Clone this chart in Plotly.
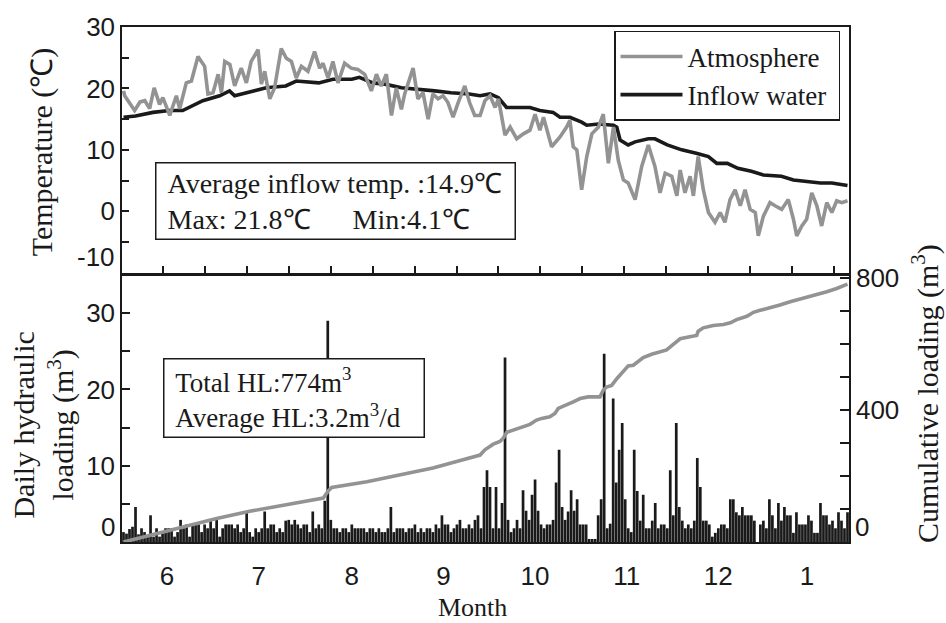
import plotly.graph_objects as go
import numpy as np

# ---------------- data ----------------
month_labels = ["6", "7", "8", "9", "10", "11", "12", "1"]
month_lengths = [30, 31, 31, 30, 31, 30, 31, 28]

atm_day = [0, 0.4, 3.7, 5.5, 7.1, 8.7, 10.2, 12, 13.1, 15.4, 17.6, 18.7, 20.9, 22.6, 24.8, 27, 28.1, 29.8,
           31.5, 32.6, 33.7, 35.4, 37, 39.2, 40.9, 42.5, 44.8, 45.9, 47, 48.7, 50.3, 52.5, 54.2, 55.9,
           57.5, 59.2, 61.4, 63.6, 65.3, 66.4, 68.1, 69.7, 71.4, 73.6, 75.8, 78, 80.3, 82.5, 84.2, 85.8,
           87.5, 89.2, 90.8, 92.5, 93.6, 94.7, 96.4, 98, 99.7, 101.4, 103, 104.7, 106.4, 108, 109.7,
           111.4, 113.6, 115.2, 116.9, 118.7, 120.3, 122, 123.7, 124.8, 127, 128.7, 130.9, 133.1, 135.3,
           137, 138.6, 139.8, 142.5, 145.3, 147.5, 148.6, 149.7, 150.9, 152.5, 154.2, 155.9, 158.1,
           159.7, 161.4, 163.1, 164.7, 166.4, 168, 170.3, 172.5, 174.7, 176.9, 178.6, 180.3, 182.5,
           184.2, 185.3, 186.9, 188.6, 189.7, 191.3, 193, 194.7, 196.9, 198.6, 200.2, 201.9, 203.6,
           205.3, 206.9, 208.6, 210.3, 211.3, 213, 215.2, 216.9, 219.1, 221.3, 223, 224.1, 225.8,
           227.4, 229.1, 230.8, 232.4, 234.1, 235.8, 237.4, 239.1, 241]
atm_temp = [19.6, 18.8, 16.4, 17.8, 18.0, 16.7, 20.1, 17.4, 18.5, 15.6, 18.8, 16.7, 20.9, 21.2, 25.2, 23.6,
            19.1, 19.3, 22.3, 19.3, 24.4, 23.9, 20.4, 23.3, 20.9, 24.4, 26.3, 20.7, 22.8, 18.3, 20.1,
            26.5, 24.9, 24.4, 21.7, 23.6, 22.8, 26.0, 23.3, 24.1, 21.7, 24.4, 20.9, 24.1, 23.3, 23.1,
            22.3, 19.6, 22.3, 20.4, 22.3, 15.6, 20.1, 16.6, 19.1, 20.9, 23.3, 18.3, 19.3, 15.0, 19.1,
            18.3, 18.8, 17.7, 15.3, 17.7, 20.4, 17.7, 15.6, 15.6, 18.0, 18.8, 16.9, 18.3, 12.4, 13.7,
            11.8, 12.6, 13.2, 15.8, 13.2, 15.3, 10.5, 12.1, 13.7, 14.8, 10.5, 10.0, 3.5, 8.9, 12.6,
            13.7, 15.8, 7.8, 13.7, 8.3, 5.1, 4.6, 1.9, 7.3, 10.8, 7.3, 3.0, 6.2, 5.7, 2.5, 6.7, 3.0,
            5.7, 2.5, 8.9, 3.5, -0.2, -1.8, -0.2, -1.8, 1.9, 3.5, 0.9, 3.5, 0.3, -0.2, -4.0, -0.8,
            1.4, 0.9, 0.3, 1.9, -1.3, -4.0, -2.4, -1.3, 3.0, 0.9, -2.4, 1.4, -0.2, 1.7, 1.4, 1.7]

inflow_day = [0, 4, 9.8, 15.3, 19.7, 26.4, 32, 35.3, 37, 43, 47.5, 54, 57.5, 65, 69.7, 76, 78.5, 83, 87,
              92.5, 98, 103.6, 109, 115, 118.7, 122, 124.8, 127.5, 131, 135.3, 138.6, 143, 145.3,
              148.6, 152.5, 154.2, 158.1, 163.1, 164.2, 165.3, 168, 170.3, 174.7, 176.9, 181, 185.8,
              191, 194.7, 197.5, 201, 204.5, 209, 213, 219, 223, 227.4, 232, 235.8, 241]
inflow_temp = [15.3, 15.5, 16.1, 16.4, 16.4, 18.0, 18.8, 19.6, 18.8, 19.6, 20.1, 20.4, 21.2, 20.9, 21.5,
               21.5, 21.8, 20.9, 20.7, 20.1, 19.9, 19.6, 19.3, 19.1, 18.8, 19.1, 18.5, 16.9, 16.9,
               16.9, 16.4, 16.1, 15.3, 15.3, 14.5, 14.0, 14.2, 14.0, 13.7, 11.6, 10.8, 11.3, 11.8,
               11.8, 10.8, 10.0, 9.4, 8.9, 7.8, 7.8, 7.0, 6.5, 5.9, 5.7, 5.1, 4.9, 4.6, 4.6, 4.2]

daily_hl = [
    1.3, 1.1, 1.7, 2.0, 4.6, 1.0, 1.8, 1.3, 0.7, 3.5,
    0.7, 1.8, 0.7, 1.3, 1.8, 1.8, 1.8, 0.7, 1.3, 2.9,
    1.8, 2.3, 0.7, 2.3, 2.3, 2.3, 1.3, 2.3, 1.8, 2.9,
    1.8, 2.9, 0.7, 1.8, 2.3, 2.3, 2.3, 1.8, 2.3, 1.3,
    1.8, 4.0, 1.3, 0.7, 1.8, 1.3, 1.8, 4.0, 1.8, 2.3,
    2.3, 1.3, 1.8, 1.3, 2.8, 2.9, 2.3, 2.9, 2.3, 1.8,
    2.3, 2.3, 1.3, 4.0, 1.8, 2.3, 1.8, 5.4, 29.0, 2.9,
    1.8, 1.8, 1.3, 1.8, 1.8, 1.3, 2.3, 1.8, 1.8, 1.8,
    1.8, 1.3, 1.8, 1.8, 1.3, 1.8, 1.3, 1.3, 1.8, 4.6,
    1.3, 1.8, 1.8, 1.8, 1.3, 1.8, 1.8, 2.3, 1.3, 1.8,
    1.3, 1.8, 1.8, 1.3, 2.3, 1.8, 3.5, 2.3, 2.3, 1.3,
    1.8, 2.3, 2.9, 1.8, 1.8, 2.3, 1.8, 2.9, 3.5, 1.8,
    7.2, 9.4, 7.2, 1.8, 7.2, 1.8, 5.1, 24.2, 2.9, 1.3,
    1.8, 2.9, 1.8, 6.8, 4.1, 2.9, 6.2, 8.2, 4.1, 2.3,
    1.8, 2.3, 2.3, 2.9, 7.8, 12.1, 4.6, 2.9, 4.0, 6.8,
    4.1, 5.6, 2.3, 2.3, 2.3, 0.4, 0.4, 0.4, 3.5, 5.6,
    24.7, 1.8, 2.4, 18.8, 7.8, 12.1, 15.6, 5.6, 1.8, 1.3,
    12.1, 6.7, 2.8, 6.2, 1.8, 1.8, 2.8, 5.1, 1.8, 2.3,
    2.3, 1.8, 9.4, 3.5, 15.6, 4.6, 2.8, 1.8, 2.3, 1.8,
    2.8, 11.0, 7.2, 2.8, 2.8, 2.3, 0.7, 1.2, 1.8, 2.3,
    2.3, 1.8, 5.6, 5.6, 3.9, 3.5, 4.6, 3.5, 3.5, 3.5,
    2.8, 0.0, 2.3, 2.8, 1.8, 5.6, 3.5, 1.8, 5.1, 2.8,
    4.6, 3.5, 3.5, 1.2, 3.9, 2.3, 2.3, 2.3, 3.5, 2.8,
    1.2, 1.2, 5.1, 3.5, 3.5, 2.3, 2.8, 1.8, 3.9, 2.8,
    1.8, 3.9]

cum_day = [0, 9, 20, 31, 42, 53, 64, 66.5, 68.2, 69.3, 81, 92, 103, 112.7, 118.7, 120.3, 121.4, 123.1,
           125.3, 126.4, 127.6, 129.8, 132, 135.3, 137.5, 139.2, 141.9, 143.6, 144.7, 147.5, 149.7,
           152, 154.7, 158.6, 159.7, 160.8, 162.5, 164.2, 166.4, 168, 169.7, 171.4, 173, 175.8,
           178.6, 180.8, 183, 185.3, 188.5, 190.8, 191.3, 193, 196.3, 199.7, 202, 204.1, 207.5,
           209.7, 211.9, 215.2, 218.5, 221.9, 226.3, 230.8, 234.1, 237.4, 241]
cum_load = [0, 21, 46, 71, 93, 110, 127, 133, 155, 165, 182, 204, 224, 248, 263, 279, 287, 296, 304,
            314, 332, 339, 346, 356, 369, 374, 379, 389, 404, 414, 424, 434, 439, 439, 459, 469,
            474, 494, 518, 533, 535, 548, 558, 568, 575, 581, 598, 615, 621, 625, 638, 648, 655,
            658, 663, 673, 683, 695, 701, 708, 717, 727, 737, 747, 757, 767, 780]

temp_major = [0, 10, 20, 30]
temp_minor = [-10, -5, 5, 15, 25]
hl_major = [10, 20, 30]
hl_minor = [5, 15, 25]
cum_major = [400, 800]
cum_minor = [100, 200, 300, 500, 600, 700]

# ---------------- layout helpers ----------------
W, H = 946, 623
L, R, T, B = 122, 849, 20, 542


def px(xp):
    return (xp - L) / (R - L)


def py(yp):
    return (B - yp) / (B - T)


n_days = len(daily_hl)
days = list(range(n_days))
starts = np.concatenate([[0], np.cumsum(month_lengths)[:-1]])
month_centers = [s + (m - 1) / 2 for s, m in zip(starts, month_lengths)]

SERIF = "Liberation Serif, Times New Roman, serif"
SANS = "Liberation Sans, Arial, sans-serif"
INK = "#1a1a1a"
GRAY = "#939393"
NB = "\u00a0"

fig = go.Figure()

fig.add_trace(go.Scatter(x=inflow_day, y=inflow_temp, mode="lines", name="Inflow water" + NB,
                         line=dict(color=INK, width=3.6), xaxis="x", yaxis="y", legendrank=2))
fig.add_trace(go.Scatter(x=atm_day, y=atm_temp, mode="lines", name="Atmosphere",
                         line=dict(color=GRAY, width=3.6), xaxis="x", yaxis="y", legendrank=1))

fig.add_trace(go.Bar(x=days, y=daily_hl, marker=dict(color=INK, line=dict(width=0)),
                     xaxis="x2", yaxis="y2", showlegend=False))
fig.add_trace(go.Scatter(x=cum_day, y=cum_load, mode="lines", line=dict(color=GRAY, width=3.6),
                         xaxis="x2", yaxis="y3", showlegend=False))

axis_common = dict(showline=True, linecolor=INK, linewidth=1.5, showgrid=False, zeroline=False,
                   tickcolor=INK, tickwidth=1.5)


def minor_ticks(vals, length):
    return dict(tickmode="array", tickvals=vals, ticks="inside", ticklen=length,
                tickcolor=INK, tickwidth=1.5, showgrid=False)


fig.update_layout(
    width=W, height=H,
    margin=dict(l=L, r=W - R, t=T, b=H - B),
    paper_bgcolor="white", plot_bgcolor="white",
    bargap=0.1,
    font=dict(family=SANS, size=26, color=INK),
    xaxis=dict(domain=[0, 1], anchor="y", range=[-0.5, n_days - 0.5], showticklabels=False,
               ticks="inside", ticklen=7, tick0=13.3, dtick=13.94, mirror=True, **axis_common),
    yaxis=dict(domain=[py(269), 1], anchor="x", range=[-10, 30], tickmode="array",
               tickvals=temp_major, ticks="inside", ticklen=7, minor=minor_ticks(temp_minor, 7),
               mirror=True, tickfont=dict(family=SANS, size=26), **axis_common),
    xaxis2=dict(domain=[0, 1], anchor="y2", range=[-0.5, n_days - 0.5], tickmode="array",
                tickvals=month_centers, ticktext=month_labels, ticks="", ticklabelstandoff=10,
                mirror=True, tickfont=dict(family=SANS, size=26), **axis_common),
    yaxis2=dict(domain=[0, py(272)], anchor="x2", range=[0, (B - 272) / 7.73], tickmode="array",
                tickvals=hl_major, ticks="inside", ticklen=8, minor=minor_ticks(hl_minor, 8),
                mirror=True, tickfont=dict(family=SANS, size=26), **axis_common),
    yaxis3=dict(overlaying="y2", anchor="x2", side="right", range=[0, (B - 272) / 0.335],
                tickmode="array", tickvals=cum_major, ticks="inside", ticklen=9,
                minor=minor_ticks(cum_minor, 9), tickfont=dict(family=SANS, size=26),
                **axis_common),
    legend=dict(x=px(614), y=py(24), xanchor="left", yanchor="top", bgcolor="white",
                bordercolor=INK, borderwidth=1.5, font=dict(family=SERIF, size=27),
                tracegroupgap=0, itemwidth=62),
)

ann = []
# lower tick labels (lifted above the corner like the original)
for txt, xp, yp, xa in [("-10", 117, 253, "right"), ("0", 117, 527, "right"), ("0", 853, 527, "left")]:
    ann.append(dict(text=txt, xref="paper", yref="paper", x=px(xp), y=py(yp), xanchor=xa,
                    yanchor="middle", showarrow=False, font=dict(family=SANS, size=26, color=INK)))
# axis titles
ann.append(dict(text="Temperature (\u2103)", xref="paper", yref="paper", x=px(42), y=py(147),
                xanchor="center", yanchor="middle", textangle=-90, showarrow=False,
                font=dict(family=SERIF, size=30, color=INK)))
ann.append(dict(text="Daily hydraulic<br>loading (m<sup>3</sup>)", xref="paper", yref="paper",
                x=px(44), y=py(424), xanchor="center", yanchor="middle", textangle=-90,
                showarrow=False, font=dict(family=SERIF, size=30, color=INK)))
ann.append(dict(text="Cumulative loading (m<sup>3</sup>)", xref="paper", yref="paper",
                x=px(925), y=py(392), xanchor="center", yanchor="middle", textangle=-90,
                showarrow=False, font=dict(family=SERIF, size=30, color=INK)))
ann.append(dict(text="Month", xref="paper", yref="paper", x=px(472), y=py(608),
                xanchor="center", yanchor="middle", showarrow=False,
                font=dict(family=SERIF, size=26, color=INK)))
# info boxes
ann.append(dict(text=NB + "Average inflow temp. :14.9\u2103<br>" + NB + "Max: 21.8\u2103" + NB * 6 + "Min:4.1\u2103",
                xref="paper", yref="paper", x=px(155), y=py(157), xanchor="left", yanchor="top",
                align="left", width=350, showarrow=False, bordercolor=INK, borderwidth=1.5,
                borderpad=4, bgcolor="white", font=dict(family=SERIF, size=28, color=INK)))
ann.append(dict(text=NB + "Total HL:774m<sup>3</sup><br>" + NB + "Average HL:3.2m<sup>3</sup>/d",
                xref="paper", yref="paper", x=px(163), y=py(356), xanchor="left", yanchor="top",
                align="left", width=251, showarrow=False, bordercolor=INK, borderwidth=1.5,
                borderpad=4, bgcolor="white", font=dict(family=SERIF, size=27, color=INK)))
fig.update_layout(annotations=ann)

fig.write_html("out.html", config={"displayModeBar": False},
               post_script="document.body.style.margin='0';")
